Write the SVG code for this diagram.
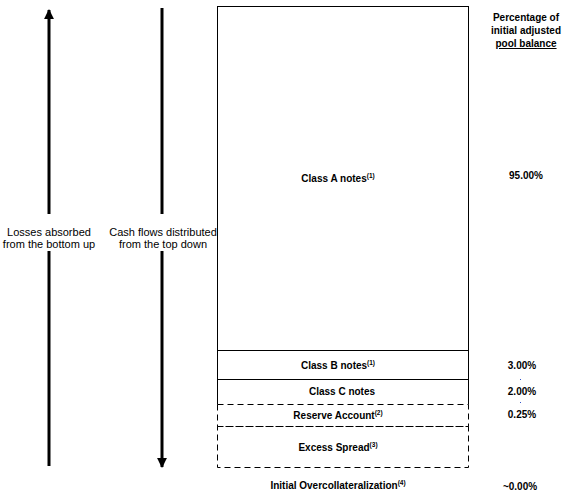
<svg xmlns="http://www.w3.org/2000/svg" width="573" height="497" viewBox="0 0 573 497">
<style>
text{font-family:"Liberation Sans",Arial,sans-serif;fill:#000}
.l{font-size:11px}
.b{font-size:10px;font-weight:bold}
.s{font-size:6.5px;font-weight:bold}
.solid{fill:none;stroke:#000;stroke-width:1}
.dash{fill:none;stroke:#000;stroke-width:1;stroke-dasharray:6,4}
.ar{stroke:#000;stroke-width:3}
</style>
<defs>
<marker id="ah" viewBox="0 0 10 10" refX="9" refY="5" markerWidth="3.3" markerHeight="3.3" orient="auto" markerUnits="strokeWidth">
<path d="M0,0L10,5L0,10z" fill="#000"/>
</marker>
</defs>
<g id="connectors">
<line class="ar" x1="49" y1="214" x2="49" y2="10" marker-end="url(#ah)"/>
<line class="ar" x1="49" y1="466" x2="49" y2="251"/>
<line class="ar" x1="162" y1="8" x2="162" y2="214"/>
<line class="ar" x1="162" y1="251" x2="162" y2="467" marker-end="url(#ah)"/>
</g>
<g id="label-losses">
<text class="l" x="49" y="236" text-anchor="middle">Losses absorbed</text>
<text class="l" x="49" y="248" text-anchor="middle">from the bottom up</text>
</g>
<g id="label-cash">
<text class="l" x="163" y="236" text-anchor="middle">Cash flows distributed</text>
<text class="l" x="163" y="248" text-anchor="middle">from the top down</text>
</g>
<g id="header">
<text class="b" x="526" y="21" text-anchor="middle">Percentage of</text>
<text class="b" x="526" y="34" text-anchor="middle">initial adjusted</text>
<text class="b" x="526" y="47" text-anchor="middle" text-decoration="underline">pool balance</text>
</g>
<g id="classA">
<rect class="solid" x="217.5" y="6.5" width="251" height="344"/>
<text class="b" x="338" y="182" text-anchor="middle">Class A notes<tspan class="s" dy="-4">(1)</tspan></text>
<text class="b" x="526" y="179" text-anchor="middle">95.00%</text>
</g>
<g id="classB">
<rect class="solid" x="217.5" y="350.5" width="251" height="29"/>
<text class="b" x="338" y="369" text-anchor="middle">Class B notes<tspan class="s" dy="-4">(1)</tspan></text>
<text class="b" x="522" y="369" text-anchor="middle">3.00%</text>
</g>
<g id="classC">
<path class="solid" d="M217.5,379.5V404.5M468.5,379.5V404.5"/>
<text class="b" x="342" y="395" text-anchor="middle">Class C notes</text>
<text class="b" x="522" y="395" text-anchor="middle">2.00%</text>
</g>
<g id="reserve">
<rect class="dash" x="217.5" y="404.5" width="251" height="22"/>
<text class="b" x="338" y="419" text-anchor="middle">Reserve Account<tspan class="s" dy="-4">(2)</tspan></text>
<text class="b" x="522" y="418" text-anchor="middle">0.25%</text>
</g>
<g id="excess">
<rect class="dash" x="217.5" y="426.5" width="251" height="41"/>
<text class="b" x="338" y="451" text-anchor="middle">Excess Spread<tspan class="s" dy="-4">(3)</tspan></text>
</g>
<g id="overcollateralization">
<text class="b" x="338" y="489" text-anchor="middle">Initial Overcollateralization<tspan class="s" dy="-4">(4)</tspan></text>
<text class="b" x="520" y="490" text-anchor="middle">~0.00%</text>
</g>
<g id="dots">
<rect x="520" y="379" width="1" height="1" fill="#3355cc"/>
<rect x="520" y="402" width="1" height="1" fill="#3355cc"/>
</g>
</svg>
